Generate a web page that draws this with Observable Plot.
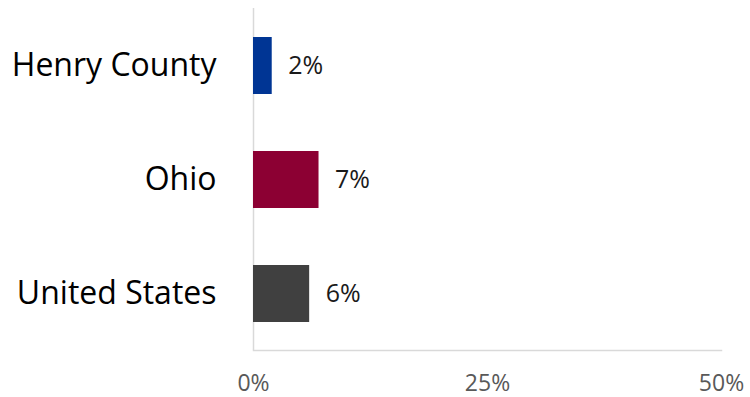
<!DOCTYPE html>
<html>
<head>
<meta charset="utf-8">
<script src="https://cdn.jsdelivr.net/npm/d3@7"></script>
<script src="https://cdn.jsdelivr.net/npm/@observablehq/plot@0.6"></script>
<style>
  html, body { margin: 0; padding: 0; background: #fff; }
  svg { font-family: "Open Sans", sans-serif; }
</style>
</head>
<body>
<div id="chart"></div>
<script>
const categories = ["Henry County", "Ohio", "United States"];
const values = [2, 7, 6];
const colors = ["#003594", "#8C0033", "#404040"];
const xTicks = [0, 25, 50];

const data = categories.map((c, i) => ({ name: c, value: values[i], color: colors[i] }));

const chart = Plot.plot({
  width: 750,
  height: 397,
  marginLeft: 253,
  marginRight: 29,
  marginTop: 8,
  marginBottom: 47,
  style: { fontFamily: "Open Sans, sans-serif", background: "#fff" },
  x: { domain: [0, 50], ticks: xTicks, tickFormat: d => d + "%" },
  y: { domain: categories, paddingInner: 0.5, paddingOuter: 0.25 },
  marks: [
    Plot.frame({ anchor: "bottom", stroke: "#d9d9d9", strokeWidth: 1.5 }),
    Plot.ruleX([0], { stroke: "#d9d9d9", strokeWidth: 1.5 }),
    Plot.barX(data, { x: "value", y: "name", fill: "color" }),
    Plot.text(data, {
      x: "value", y: "name", text: d => d.value + "%",
      textAnchor: "start", dx: 16, fontSize: 25, fill: "#1a1a1a"
    }),
    Plot.axisX({ ticks: xTicks, tickFormat: d => d + "%", tickSize: 0, tickPadding: 24, fontSize: 23, color: "#595959", label: null }),
    Plot.axisY({ tickSize: 0, tickPadding: 37, fontSize: 32, color: "#000", label: null })
  ]
});
document.getElementById("chart").appendChild(chart);
</script>
</body>
</html>
